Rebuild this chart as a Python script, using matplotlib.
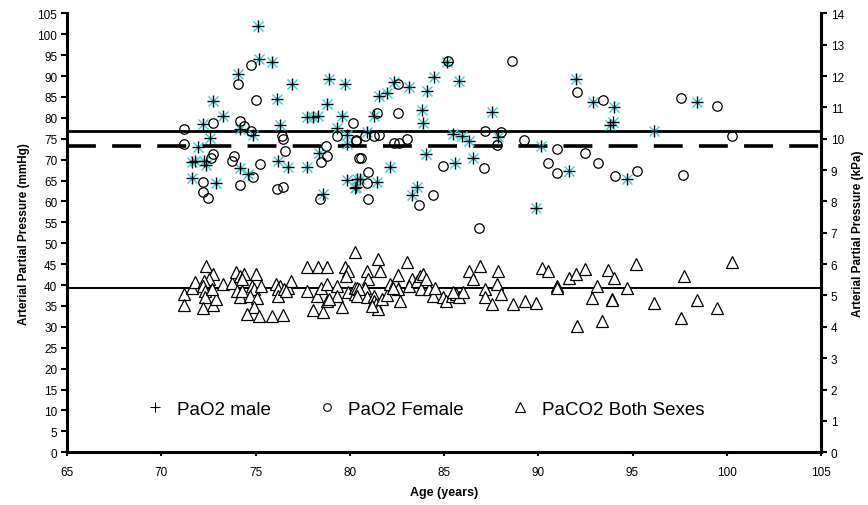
import matplotlib.pyplot as plt
from matplotlib.lines import Line2D

plt.rcParams['font.family'] = ['Liberation Sans', 'DejaVu Sans']

# PaO2 male (age, mmHg)
male_age = [75.12, 75.19, 75.89, 74.05, 76.95, 78.88, 79.75, 72.76, 76.16, 73.26,
            78.78, 77.75, 78.07, 78.30, 79.60, 72.23, 74.18, 76.30, 74.88, 72.59,
            71.97, 79.34, 79.84, 79.87, 78.39, 71.61, 71.79, 72.27, 72.37, 76.21,
            76.71, 77.72, 74.18, 74.62, 71.61, 72.90, 79.87, 80.37, 80.28, 78.60,
            85.14, 84.49, 85.81, 82.35, 83.16, 84.12, 81.57, 81.96, 83.85, 83.87,
            81.27, 87.55, 80.90, 85.46, 85.94, 86.34, 87.87, 90.12, 84.05, 86.52,
            85.58, 82.14, 91.64, 94.72, 80.53, 81.43, 80.35, 83.55, 83.28, 89.90,
            91.99, 92.91, 94.02, 93.98, 93.80, 98.40, 96.14]
male_val = [102.0, 94.1, 93.4, 90.6, 88.2, 89.3, 88.0, 84.1, 84.5, 80.5,
            83.2, 80.1, 80.1, 80.5, 80.5, 78.5, 77.3, 78.3, 75.9, 75.1,
            72.9, 77.5, 75.9, 73.7, 71.7, 69.4, 69.7, 69.7, 68.8, 69.7,
            68.2, 68.2, 67.9, 66.6, 65.6, 64.4, 65.2, 65.4, 63.1, 61.8,
            93.3, 89.8, 88.7, 88.5, 87.3, 86.5, 85.3, 85.9, 81.9, 78.7,
            80.4, 81.3, 76.7, 76.1, 75.6, 74.5, 75.3, 73.3, 71.3, 70.4,
            69.1, 68.2, 67.3, 65.4, 65.4, 64.7, 63.4, 63.4, 61.6, 58.4,
            89.3, 83.7, 82.5, 79.1, 78.3, 83.9, 76.9]

# PaO2 female (age, mmHg)
female_age = [71.20, 71.20, 72.73, 74.76, 74.05, 75.00, 74.18, 74.41, 74.76, 76.39,
              76.48, 76.58, 72.73, 72.62, 73.86, 73.77, 75.24, 74.85, 74.18, 72.23,
              72.20, 72.50, 76.12, 76.48, 78.42, 78.72, 78.78, 78.46, 79.30, 80.19,
              80.31, 80.50, 85.23, 88.63, 82.54, 81.46, 82.54, 80.31, 80.81, 81.28,
              81.57, 82.35, 82.63, 83.06, 80.60, 80.95, 80.90, 80.95, 84.96, 84.40,
              83.67, 87.17, 88.02, 87.79, 87.14, 89.25, 90.97, 90.49, 90.97, 92.06,
              93.44, 92.47, 93.15, 94.09, 95.22, 97.56, 99.47, 100.30, 97.70, 86.87]
female_val = [77.3, 73.7, 78.7, 92.6, 88.1, 84.3, 79.3, 78.0, 76.9, 75.7,
              74.9, 72.0, 71.3, 70.5, 70.9, 69.6, 68.9, 65.8, 64.0, 64.6,
              62.2, 60.7, 63.0, 63.4, 60.6, 73.3, 70.8, 69.5, 75.6, 78.7,
              74.7, 70.5, 93.5, 93.7, 88.1, 81.1, 81.1, 74.5, 75.6, 75.6,
              75.9, 74.0, 74.0, 74.9, 70.5, 67.0, 64.3, 60.6, 68.4, 61.6,
              59.2, 76.9, 76.7, 73.5, 67.9, 74.7, 72.5, 69.1, 66.8, 86.1,
              84.3, 71.6, 69.1, 66.1, 67.2, 84.7, 82.9, 75.6, 66.3, 53.6]

# PaCO2 both sexes (age, mmHg)
co2_age = [71.21, 71.21, 71.61, 71.79, 72.35, 72.76, 72.55, 72.28, 72.20, 72.30,
           72.30, 72.20, 72.76, 72.90, 72.68, 73.25, 73.77, 73.96, 74.18, 74.41,
           74.27, 75.00, 74.00, 74.18, 74.27, 74.80, 74.90, 74.70, 75.30, 75.10,
           74.90, 74.56, 75.19, 75.90, 76.47, 76.10, 76.30, 76.20, 76.20, 76.50,
           76.70, 76.90, 76.60, 77.71, 78.33, 78.77, 77.71, 78.28, 78.46, 78.78,
           79.30, 79.34, 78.78, 78.90, 79.60, 78.07, 78.60, 79.75, 79.93, 79.80,
           80.30, 79.90, 80.30, 80.30, 80.40,
           80.93, 81.50, 81.60, 80.98, 80.80, 80.50, 80.37, 80.90, 81.30, 81.30,
           81.40, 81.50, 81.70, 81.96, 81.16, 82.66, 82.13, 82.40, 82.58, 82.58,
           82.30, 83.06, 83.29, 83.16, 83.55, 83.73, 83.90, 83.80, 84.20, 84.40,
           84.50, 84.07, 84.96, 85.13, 85.40, 85.66, 85.80, 86.00, 85.50, 86.34,
           86.52, 86.90, 87.17, 87.20, 87.56, 87.88, 87.83, 88.00, 88.64, 89.30,
           89.90, 90.20, 90.54, 90.98, 91.00, 91.65, 92.00, 92.50, 92.06, 92.86,
           93.10, 93.40, 93.70, 94.00, 93.90, 93.90, 94.73, 95.20,
           96.14, 97.75, 97.57, 98.40, 99.50, 100.30]
co2_val = [37.8, 35.2, 39.4, 40.8, 44.6, 42.6, 41.4, 41.0, 39.8, 38.6,
           37.1, 34.4, 35.2, 36.7, 39.0, 40.2, 40.6, 43.2, 42.2, 42.6,
           41.4, 42.6, 38.6, 37.1, 38.6, 39.8, 39.0, 37.4, 39.8, 36.9,
           34.7, 33.1, 32.6, 32.6, 32.8, 40.2, 39.8, 39.0, 37.4, 39.0,
           39.4, 41.0, 38.6, 44.2, 44.4, 44.4, 38.6, 37.4, 39.4, 40.2,
           39.8, 37.4, 36.2, 36.7, 34.7, 34.0, 33.5, 44.2, 43.4, 42.2,
           47.8, 38.3, 37.8, 39.2, 39.4,
           43.4, 46.2, 43.4, 41.4, 39.4, 39.0, 37.4, 37.1, 37.4, 36.2,
           35.5, 34.3, 36.7, 37.6, 35.0, 36.2, 40.2, 40.8, 39.0, 42.4,
           39.2, 45.6, 41.4, 39.8, 41.0, 42.2, 42.6, 39.0, 39.0, 37.4,
           39.4, 41.4, 37.1, 36.2, 37.4, 37.8, 37.1, 38.4, 38.3, 43.4,
           41.4, 44.5, 39.0, 37.1, 35.5, 43.4, 40.2, 37.8, 35.5, 36.2,
           35.7, 44.0, 43.4, 39.8, 39.2, 41.6, 42.6, 43.8, 30.1, 36.9,
           39.8, 31.3, 43.7, 41.6, 36.7, 36.4, 39.2, 45.0,
           35.7, 42.2, 32.1, 36.5, 34.4, 45.4]

# reference lines (mmHg)
line_range = [65, 105]
pao2_upper = 76.8
pao2_lower = 73.25
paco2_mean = 39.35

fig = plt.figure(figsize=(8.68, 5.06), dpi=100)
ax = fig.add_axes([0.0772, 0.1043, 0.8687, 0.8674])

ax.plot(line_range, [pao2_upper] * 2, color='black', lw=2.0, zorder=1)
ax.plot(line_range, [pao2_lower] * 2, color='black', lw=2.6,
        dashes=(8, 4.5), zorder=1)
ax.plot(line_range, [paco2_mean] * 2, color='black', lw=1.4, zorder=1)

ax.plot(male_age, male_val, ls='none', marker='x', ms=6.5, mew=1.0,
        color='#2ad4dc', zorder=3)
ax.plot(male_age, male_val, ls='none', marker='+', ms=8.5, mew=1.0,
        color='black', zorder=4)
ax.plot(female_age, female_val, ls='none', marker='o', ms=6.8, mew=0.9,
        mfc='none', mec='black', zorder=3)
ax.plot(co2_age, co2_val, ls='none', marker='^', ms=8.3, mew=0.9,
        mfc='white', mec='black', zorder=3)

ax.set_xlim(65, 105)
ax.set_ylim(0, 105)
ax.set_xticks(range(65, 106, 5))
ax.set_yticks(range(0, 106, 5))
ax.tick_params(axis='y', labelsize=8.5, direction='out', length=4, width=1.5, pad=3)
ax.tick_params(axis='x', labelsize=8.5, direction='out', length=3, width=1.5, pad=7)
for side in ['left', 'bottom', 'right']:
    ax.spines[side].set_linewidth(2.2)
ax.spines['top'].set_visible(False)

ax.set_xlabel('Age (years)', fontsize=9, fontweight='bold', labelpad=6)
ax.set_ylabel('Arterial Partial Pressure (mmHg)', fontsize=8.5,
              fontweight='bold', labelpad=5)

ax2 = ax.twinx()
ax2.set_ylim(0, 14)
ax2.set_yticks(range(0, 15))
ax2.tick_params(labelsize=8.5, direction='out', length=4, width=1.5, pad=3)
ax2.spines['top'].set_visible(False)
ax2.spines['right'].set_linewidth(2.2)
ax2.set_ylabel('Arterial Partial Pressure (kPa)', fontsize=8.5,
               fontweight='bold', labelpad=6)

handles = [
    Line2D([], [], ls='none', marker='+', ms=7, mew=0.8, color='black'),
    Line2D([], [], ls='none', marker='o', ms=5.5, mew=0.8, mfc='none', mec='black'),
    Line2D([], [], ls='none', marker='^', ms=6.5, mew=0.8, mfc='none', mec='black'),
]
ax.legend(handles, ['PaO2 male', 'PaO2 Female', 'PaCO2 Both Sexes'],
          ncol=3, frameon=False, fontsize=13.5, loc='center left',
          bbox_to_anchor=(0.1068, 0.0984), borderpad=0, borderaxespad=0,
          columnspacing=2.6, handletextpad=0.75, handlelength=0.8)

fig.savefig('out.png', dpi=100)
